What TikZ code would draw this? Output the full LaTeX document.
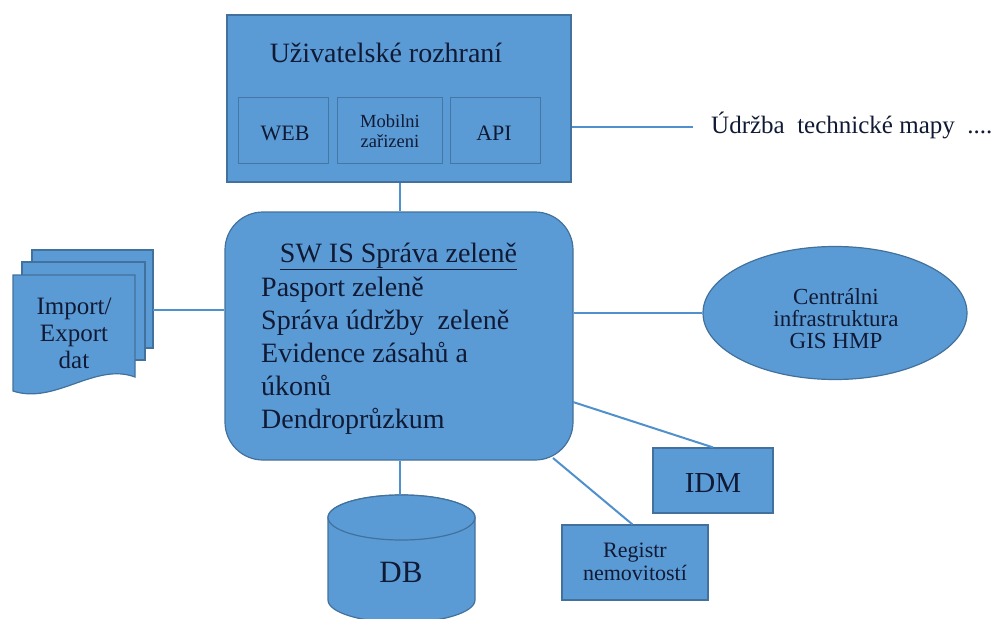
\documentclass[tikz,border=0pt]{standalone}
\usepackage{fontspec}
\setmainfont{Liberation Serif}
\usetikzlibrary{shapes.geometric,calc}
\definecolor{fillblue}{HTML}{5B9BD5}
\definecolor{edgeblue}{HTML}{41719C}
\definecolor{linkblue}{HTML}{5090CC}
\definecolor{txt}{HTML}{111A35}
\begin{document}
\begin{tikzpicture}[x=1pt,y=-1pt,
  box/.style={draw=edgeblue, fill=fillblue, line width=1.2pt, inner sep=0pt},
  inbox/.style={draw=edgeblue!85!fillblue, fill=fillblue, line width=1pt, inner sep=0pt},
  lbl/.style={text=txt, inner sep=0pt},
  link/.style={draw=linkblue, line width=2pt}]
\useasboundingbox (0,0) rectangle (1005,619);

% ---- top box: user interface
\node[box, minimum width=344pt, minimum height=167pt] (ui) at (399,98.5) {};
\node[lbl, anchor=base, font=\fontsize{28}{32}\selectfont] (uititle) at (386,62) {Uživatelské rozhraní};
\node[inbox, minimum width=90pt, minimum height=66pt] (web) at (283,130) {};
\node[inbox, minimum width=105pt, minimum height=66pt] (mob) at (389.5,130) {};
\node[inbox, minimum width=90pt, minimum height=66pt] (api) at (495,130) {};
\node[lbl, anchor=base, font=\fontsize{22}{24}\selectfont] (webt) at (285,140) {WEB};
\node[lbl, anchor=base, font=\fontsize{22}{24}\selectfont] (apit) at (494,140) {API};
\node[lbl, anchor=base, font=\fontsize{18.5}{20}\selectfont] (mobt1) at (390,127) {Mobilni};
\node[lbl, anchor=base, font=\fontsize{18.5}{20}\selectfont] (mobt2) at (390,147) {zařizeni};

% ---- right text
\node[lbl, anchor=base west, font=\fontsize{25}{28}\selectfont] (tm) at (711,133) {Údržba~ technické mapy~ ....};
\coordinate (tmL) at (693,127);

% ---- main rounded box
\node[box, rounded corners=38pt, minimum width=348pt, minimum height=248pt] (sw) at (399,336) {};
\node[lbl, anchor=base, font=\fontsize{28}{33}\selectfont] (swtitle) at (398.5,262) {\underline{SW IS Správa zeleně}};
\node[lbl, anchor=base west, align=left, font=\fontsize{28}{33}\selectfont] (swtext) at (261,428)
  {Pasport zeleně\\Správa údržby~ zeleně\\Evidence zásahů a\\úkonů\\Dendroprůzkum};

% ---- multiple documents
\node[box, minimum width=121pt, minimum height=98pt] (p3) at (92.5,299) {};
\node[box, minimum width=123pt, minimum height=98pt] (p2) at (83.5,311) {};
\draw[box] (13,275) -- (135,275) -- (135,377)
  .. controls (95,362) and (55,405) .. (13,391) -- cycle;
\node[lbl, align=center, font=\fontsize{25}{27}\selectfont, anchor=base] (doct) at (74,368) {Import/\\Export\\dat};
\coordinate (docR) at (153,310);

% ---- ellipse
\node[box, ellipse, minimum width=264pt, minimum height=133pt] (gis) at (835,313) {};
\node[lbl, anchor=base, align=center, font=\fontsize{23}{22}\selectfont] (gist) at (836,348)
  {Centrálni\\infrastruktura\\GIS HMP};

% ---- IDM
\node[box, minimum width=120pt, minimum height=65pt] (idm) at (713,480.5) {};
\node[lbl, anchor=base, font=\fontsize{29}{33}\selectfont] (idmt) at (713,492) {IDM};

% ---- Registr
\node[box, minimum width=146pt, minimum height=75pt] (reg) at (635,562.5) {};
\node[lbl, anchor=base, align=center, font=\fontsize{22}{23}\selectfont] (regt) at (635,580) {Registr\\nemovitostí};

% ---- DB cylinder
\draw[box] (328,517.5) -- (328,600) arc[start angle=180, end angle=360, x radius=73.5pt, y radius=22.5pt]
  -- (475,517.5) arc[start angle=0, end angle=180, x radius=73.5pt, y radius=22.5pt] -- cycle;
\draw[box] (401.5,517.5) ellipse[x radius=73.5pt, y radius=22.5pt];
\coordinate (dbtop) at (400,495);
\node[lbl, anchor=base, font=\fontsize{31}{34}\selectfont] (db) at (401,582) {DB};

% ---- connectors
\coordinate (swIDM) at (573,402);
\coordinate (swREG) at (553,458);
\draw[link] (ui.south -| 400,0) -- (sw.north -| 400,0);
\draw[link] (ui.east |- tmL) -- (tmL);
\draw[link] (docR) -- (docR -| sw.west);
\draw[link] (gis.west -| sw.east) -- (gis.west);
\draw[link] (swIDM) -- (idm.north);
\draw[link] (swREG) -- ($(reg.north west)+(71,0)$);
\draw[link] (sw.south -| 400,0) -- (dbtop);
\end{tikzpicture}
\end{document}
